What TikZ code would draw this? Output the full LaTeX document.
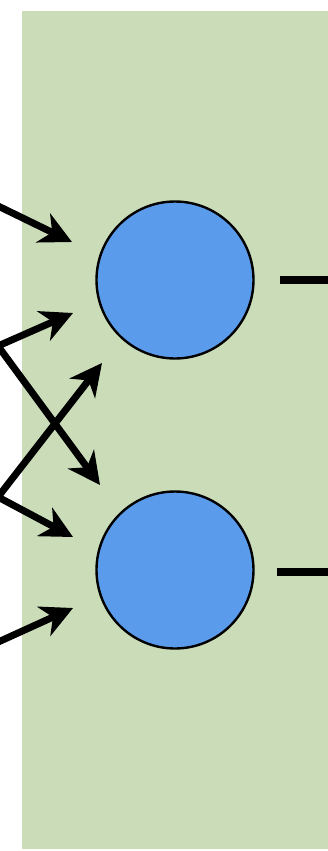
\documentclass[tikz,border=0pt]{standalone}
\usetikzlibrary{arrows.meta}
\definecolor{panel}{HTML}{CADDB8}
\definecolor{cellblue}{HTML}{5B9BEB}
\begin{document}
\begin{tikzpicture}[x=1pt,y=-1pt,
  neuron/.style={circle,draw=black,line width=2.4pt,fill=cellblue,minimum size=157pt,inner sep=0pt},
  link/.style={line width=7pt,-{Stealth[length=32pt,width=32pt,inset=10pt,fill=black]}},
  outlink/.style={line width=8pt}]
\useasboundingbox (0,0) rectangle (328,851);
\clip (0,0) rectangle (328,851);
% background panel
\fill[panel] (22,11) rectangle (332,849);

% the two units
\node[neuron] (n1) at (175,280) {};
\node[neuron] (n2) at (175,570) {};

% free ends of the incoming connectors
\coordinate (s1) at (-4,205);
\coordinate (va) at (-2,346);
\coordinate (vb) at (-2,497);
\coordinate (s4) at (-4,643);
\coordinate (t1) at (72,242);
\coordinate (t2) at (73,313);
\coordinate (t3) at (100,485);
\coordinate (t4) at (102,363);
\coordinate (t5) at (73,537);
\coordinate (t6) at (73,608);

\draw[link] (s1) -- (t1);
\draw[link] (va) -- (t2);
\draw[link] (va) -- (t3);
\draw[link] (vb) -- (t4);
\draw[link] (vb) -- (t5);
\draw[link] (s4) -- (t6);

% outgoing lines
\coordinate (o1) at (280,280);
\coordinate (e1) at (332,280);
\coordinate (o2) at (277,572);
\coordinate (e2) at (332,572);
\draw[outlink] (o1) -- (e1);
\draw[outlink] (o2) -- (e2);
\end{tikzpicture}
\end{document}
